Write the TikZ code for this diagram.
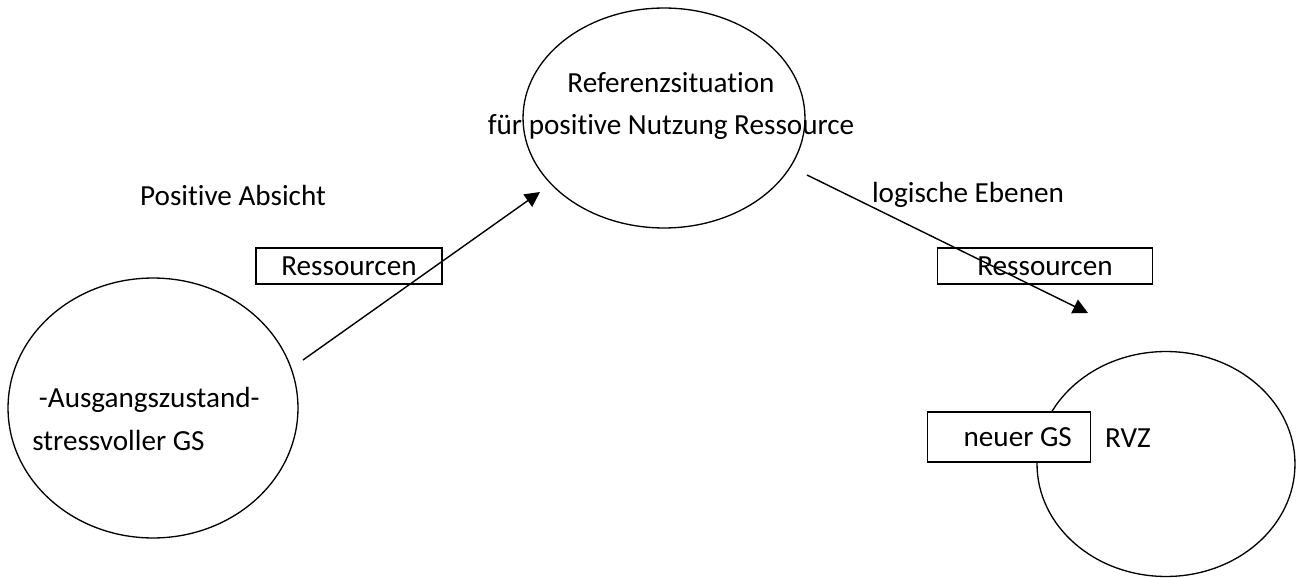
\documentclass[tikz,border=0pt]{standalone}
\usepackage{fontspec}
\setmainfont[Ligatures=NoCommon]{Carlito}
\usetikzlibrary{shapes.geometric,arrows.meta}
\begin{document}
\begin{tikzpicture}[x=0.02cm,y=-0.02cm,
  font=\fontsize{16.6}{24}\selectfont,
  blob/.style={ellipse,draw=black,line width=0.75pt,inner sep=0pt},
  box/.style={rectangle,draw=black,line width=0.6pt,inner sep=0pt,minimum height=0.72cm},
  txt/.style={inner sep=0pt},
  pfeil/.style={line width=0.8pt,-{Triangle[length=3mm,width=3mm]}}]
\useasboundingbox (0,0) rectangle (1303,578);

\node[blob,minimum width=5.8cm,minimum height=5.2cm] (start) at (153,408) {};
\node[txt,anchor=west,align=left] (starttext) at (32,419) {~-Ausgangszustand-\\stressvoller GS};

\node[blob,minimum width=5.64cm,minimum height=4.4cm] (ref) at (664,118) {};
\node[txt,align=center] (reftext) at (671,106) {Referenzsituation\\für positive Nutzung Ressource};

\node[blob,minimum width=5.16cm,minimum height=4.5cm] (rvz) at (1166,464) {};
\node[box,fill=white,minimum width=3.26cm,minimum height=1cm] (neu) at (1009,437) {\hspace{0.35cm}neuer GS};
\node[txt] (rvztext) at (1128,438) {RVZ};

\node[txt] (absicht) at (233,195) {Positive Absicht};
\node[box,minimum width=3.72cm] (res1) at (349,266) {Ressourcen};
\coordinate (a1) at (303,360);
\coordinate (b1) at (540,192);
\draw[pfeil] (a1) -- (b1);

\node[txt] (ebenen) at (968,195) {logische Ebenen};
\node[box,minimum width=4.3cm] (res2) at (1045,266) {Ressourcen};
\coordinate (a2) at (807,175);
\coordinate (b2) at (1088,313);
\draw[pfeil] (a2) -- (b2);
\end{tikzpicture}
\end{document}
